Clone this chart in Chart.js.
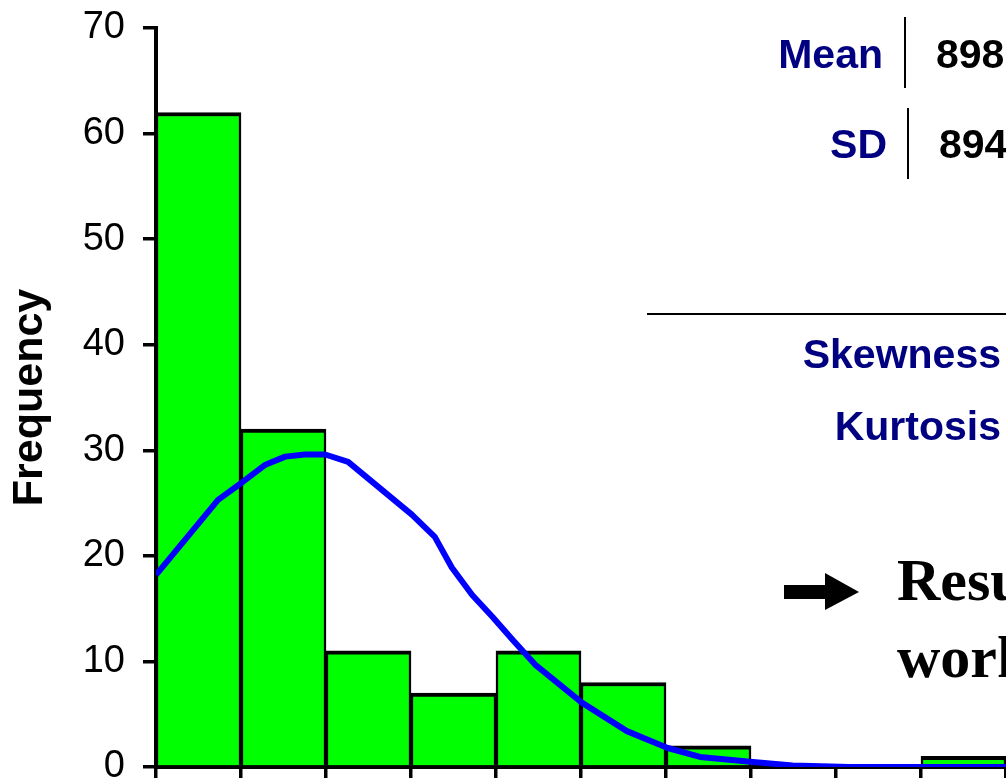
<!DOCTYPE html>
<html>
<head>
<meta charset="utf-8">
<title>Frequency histogram</title>
<script src="https://cdn.jsdelivr.net/npm/chart.js@4.4.1/dist/chart.umd.min.js"></script>
<style>
  html, body { margin: 0; padding: 0; background: #fff; overflow: hidden; }
  #wrap { position: relative; width: 1006px; height: 781px; overflow: hidden; }
  #histChart { position: absolute; left: 0; top: 0; }
</style>
</head>
<body>
<div id="wrap"><canvas id="histChart" width="1100" height="781"></canvas></div>
<script>
// Histogram data: one x unit per bin, bars sit on the bin centres
const binCenters = [0.5, 1.5, 2.5, 3.5, 4.5, 5.5, 6.5, 7.5, 8.5, 9.5];
const frequencies = [62, 32, 11, 7, 11, 8, 2, 0, 0, 1];

// fitted normal curve (as drawn in the picture)
const curveX = [0, 0.73, 1.02, 1.28, 1.52, 1.75, 1.99, 2.26, 3.01, 3.28, 3.48, 3.72, 3.96, 4.2, 4.46, 5.01, 5.54, 6.02, 6.4, 6.99, 7.49, 8.16, 11];
const curveY = [18.2, 25.3, 27.0, 28.6, 29.4, 29.6, 29.6, 28.9, 23.9, 21.8, 18.9, 16.3, 14.2, 12.0, 9.7, 6.1, 3.4, 1.8, 0.95, 0.5, 0.15, 0, 0];

const yTicks = [0, 10, 20, 30, 40, 50, 60, 70];

// side notes
const statLabels = ['Mean', 'SD'];
const statValues = ['898', '894'];
const shapeLabels = ['Skewness', 'Kurtosis'];
const resultLines = ['Results', 'work'];

const SANS = '"Liberation Sans", Arial, sans-serif';
const SERIF = '"Liberation Serif", "Times New Roman", serif';

// draws the statistics box, arrow and remark to the right of the plot
const notesPlugin = {
  id: 'notes',
  afterDraw(chart) {
    const ctx = chart.ctx;
    ctx.save();
    ctx.textBaseline = 'alphabetic';

    // Mean / SD rows
    ctx.font = 'bold 41px ' + SANS;
    ctx.textAlign = 'right';
    ctx.fillStyle = '#000080';
    ctx.fillText(statLabels[0], 883, 68);
    ctx.fillText(statLabels[1], 887, 158);
    ctx.textAlign = 'left';
    ctx.fillStyle = '#000';
    ctx.fillText(statValues[0], 936, 68);
    ctx.fillText(statValues[1], 939, 158);

    ctx.strokeStyle = '#000';
    ctx.lineWidth = 2;
    ctx.beginPath();
    ctx.moveTo(905, 17); ctx.lineTo(905, 88);
    ctx.moveTo(908, 108); ctx.lineTo(908, 179);
    ctx.moveTo(647, 314); ctx.lineTo(1100, 314);
    ctx.stroke();

    // Skewness / Kurtosis
    ctx.textAlign = 'right';
    ctx.fillStyle = '#000080';
    ctx.fillText(shapeLabels[0], 1001, 368);
    ctx.fillText(shapeLabels[1], 1001, 440);

    // arrow
    ctx.fillStyle = '#000';
    ctx.fillRect(784, 585, 42, 14);
    ctx.beginPath();
    ctx.moveTo(825, 573);
    ctx.lineTo(859, 592);
    ctx.lineTo(825, 610);
    ctx.closePath();
    ctx.fill();

    // remark
    ctx.textAlign = 'left';
    ctx.font = 'bold 60px ' + SERIF;
    ctx.fillText(resultLines[0], 897, 600);
    ctx.fillText(resultLines[1], 897, 677);

    ctx.restore();
  }
};

document.addEventListener('DOMContentLoaded', function() {
  const el = document.getElementById('histChart');

  new Chart(el, {
    type: 'bar',
    data: {
      datasets: [{
        type: 'line',
        data: curveX.map((x, i) => ({ x: x, y: curveY[i] })),
        borderColor: '#0000ff',
        borderWidth: 6,
        borderJoinStyle: 'round',
        pointRadius: 0,
        tension: 0,
        fill: false,
        order: 0
      }, {
        type: 'bar',
        data: binCenters.map((x, i) => ({ x: x, y: frequencies[i] })),
        backgroundColor: '#00ff00',
        borderColor: '#000',
        borderWidth: { top: 4, left: 2.5, right: 2.5, bottom: 0 },
        borderSkipped: 'start',
        barPercentage: 1,
        categoryPercentage: 1,
        order: 1
      }]
    },
    options: {
      responsive: false,
      animation: false,
      layout: {
        padding: { top: 28, right: 9, left: 0, bottom: 0 }
      },
      plugins: {
        legend: { display: false },
        tooltip: { enabled: false }
      },
      scales: {
        x: {
          type: 'linear',
          min: 0,
          max: 11,
          offset: false,
          grid: {
            offset: false,
            drawOnChartArea: false,
            color: '#000',
            lineWidth: 3.5,
            tickLength: 11
          },
          border: { display: true, color: '#000', width: 4 },
          ticks: { display: false, stepSize: 1 },
          afterFit: function(scale) { scale.height = 14; }
        },
        y: {
          min: 0,
          max: 70,
          grid: {
            drawOnChartArea: false,
            color: '#000',
            lineWidth: 3.5,
            tickLength: 13
          },
          border: { display: true, color: '#000', width: 4 },
          afterBuildTicks: function(scale) {
            scale.ticks = yTicks.map(v => ({ value: v }));
          },
          ticks: {
            color: '#000',
            padding: 18,
            font: { family: SANS, size: 38 }
          },
          title: {
            display: true,
            text: 'Frequency',
            color: '#000',
            font: { family: SANS, size: 43, weight: 'bold' }
          },
          afterFit: function(scale) {
            scale.width = 156;
            // let the outer layout padding decide top and bottom
            scale.paddingTop = 0;
            scale.paddingBottom = 0;
          }
        }
      }
    },
    plugins: [notesPlugin]
  });
});
</script>
</body>
</html>
